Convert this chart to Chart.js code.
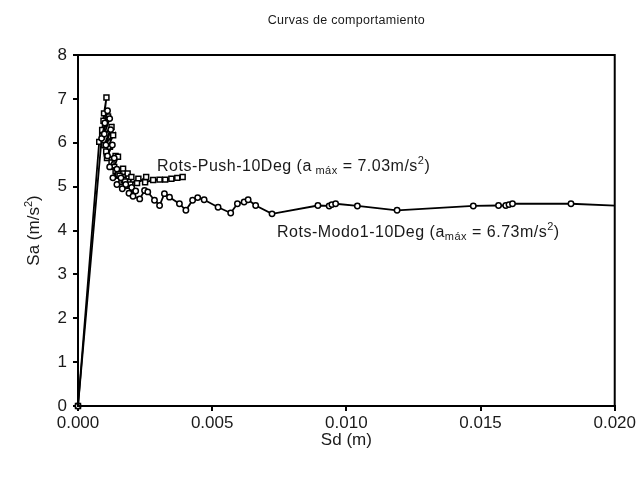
<!DOCTYPE html>
<html>
<head>
<meta charset="utf-8">
<script src="https://cdn.jsdelivr.net/npm/chart.js@4/dist/chart.umd.min.js"></script>
<style>
  html, body { margin: 0; padding: 0; background: #fff; }
  #wrap { width: 638px; height: 477px; position: relative; }
</style>
</head>
<body>
<div id="wrap"><canvas id="chart"></canvas></div>
<script>
// Rots-Push-10Deg (squares)
const pushX = [0, 0.00079, 0.00090, 0.00097, 0.00106, 0.00095, 0.00112, 0.00090, 0.00125,
  0.00098, 0.00131, 0.00105, 0.00119, 0.00108, 0.00140, 0.00125, 0.00149, 0.00135,
  0.00140, 0.00168, 0.00150, 0.00155, 0.00185, 0.00170, 0.00175, 0.00199, 0.00195,
  0.00225, 0.00220, 0.00254, 0.00250, 0.00280, 0.00304, 0.00325, 0.00348, 0.00370, 0.00390];
const pushY = [0, 6.02, 6.29, 6.67, 7.03, 6.50, 6.60, 6.15, 6.36,
  5.95, 6.17, 5.80, 5.91, 5.65, 5.70, 5.55, 5.68, 5.45,
  5.35, 5.41, 5.28, 5.25, 5.30, 5.15, 5.12, 5.22, 5.05,
  5.18, 5.08, 5.22, 5.10, 5.15, 5.16, 5.16, 5.18, 5.20, 5.22];

// Rots-Modo1-10Deg (circles)
const modoX = [0, 0.00088, 0.00110, 0.00100, 0.00118, 0.00098, 0.00122, 0.00104, 0.00128,
  0.00110, 0.00135, 0.00118, 0.00145, 0.00130, 0.00160, 0.00145, 0.00178, 0.00165,
  0.00200, 0.00190, 0.00215, 0.00205, 0.00230, 0.00248, 0.00260, 0.00285, 0.00304,
  0.00322, 0.00341, 0.00378, 0.00402, 0.00427, 0.00446, 0.00470, 0.00522, 0.00569,
  0.00594, 0.00619, 0.00634, 0.00662, 0.00723, 0.00894, 0.00936, 0.00946, 0.00960,
  0.01041, 0.01189, 0.01473, 0.01567, 0.01594, 0.01606, 0.01619, 0.01837, 0.02150];
const modoY = [0, 6.10, 6.73, 6.45, 6.55, 6.20, 6.30, 5.95, 5.95,
  5.70, 5.65, 5.45, 5.40, 5.20, 5.20, 5.05, 5.05, 4.95,
  4.98, 4.85, 4.90, 4.78, 4.72, 4.91, 4.88, 4.69, 4.57,
  4.84, 4.76, 4.61, 4.46, 4.69, 4.75, 4.70, 4.53, 4.40,
  4.61, 4.65, 4.70, 4.57, 4.38, 4.57, 4.56, 4.59, 4.61,
  4.56, 4.46, 4.56, 4.57, 4.57, 4.59, 4.61, 4.61, 4.53];

const xTicks = [0, 0.005, 0.010, 0.015, 0.020];
const yTicks = [0, 1, 2, 3, 4, 5, 6, 7, 8];

const FONT = "'Liberation Sans', Arial, sans-serif";
const INK = '#1a1a1a';

function toPoints(xs, ys) {
  return xs.map((x, i) => ({ x: x, y: ys[i] }));
}

// draw a run of text pieces with sub/superscripts
function drawRich(ctx, x, y, parts) {
  ctx.textAlign = 'left';
  ctx.textBaseline = 'alphabetic';
  let cx = x;
  parts.forEach(p => {
    ctx.font = p.size + 'px ' + FONT;
    ctx.fillText(p.t, cx, y + (p.dy || 0));
    cx += ctx.measureText(p.t).width;
  });
}

function richWidth(ctx, parts) {
  let w = 0;
  parts.forEach(p => {
    ctx.font = p.size + 'px ' + FONT;
    w += ctx.measureText(p.t).width;
  });
  return w;
}

const textPlugin = {
  id: 'texts',
  afterDraw(chart) {
    const ctx = chart.ctx;
    const a = chart.chartArea;
    ctx.save();

    // frame round the plot
    ctx.strokeStyle = '#000';
    ctx.lineWidth = 2;
    ctx.strokeRect(a.left, a.top, a.right - a.left, a.bottom - a.top);

    ctx.fillStyle = INK;
    const midX = (a.left + a.right) / 2;

    // title
    ctx.letterSpacing = '0.3px';
    ctx.font = '12.5px ' + FONT;
    ctx.textAlign = 'center';
    ctx.textBaseline = 'middle';
    ctx.fillText('Curvas de comportamiento', midX, 21);
    ctx.letterSpacing = '0px';

    // x axis title
    ctx.font = '17px ' + FONT;
    ctx.fillText('Sd (m)', midX, 440);

    // y axis title, rotated
    const yTitle = [
      { t: 'Sa (m/s', size: 17 },
      { t: '2', size: 11, dy: -7 },
      { t: ')', size: 17 }
    ];
    ctx.save();
    ctx.translate(33, (a.top + a.bottom) / 2);
    ctx.rotate(-Math.PI / 2);
    const w = richWidth(ctx, yTitle);
    drawRich(ctx, -w / 2, 6, yTitle);
    ctx.restore();

    // series labels
    ctx.letterSpacing = '0.5px';
    drawRich(ctx, 157, 171, [
      { t: 'Rots-Push-10Deg (a', size: 16 },
      { t: ' máx', size: 11, dy: 3 },
      { t: ' = 7.03m/s', size: 16 },
      { t: '2', size: 11, dy: -7 },
      { t: ')', size: 16 }
    ]);
    drawRich(ctx, 277, 237, [
      { t: 'Rots-Modo1-10Deg (a', size: 16 },
      { t: 'máx', size: 11, dy: 3 },
      { t: ' = 6.73m/s', size: 16 },
      { t: '2', size: 11, dy: -7 },
      { t: ')', size: 16 }
    ]);
    ctx.restore();
  }
};

const ctx = document.getElementById('chart').getContext('2d');
const chart = new Chart(ctx, {
  type: 'line',
  data: {
    datasets: [{
      label: 'Rots-Modo1-10Deg',
      data: toPoints(modoX, modoY),
      borderColor: '#000',
      borderWidth: 1.8,
      pointStyle: 'circle',
      pointRadius: 2.7,
      pointBorderWidth: 1.5,
      pointBackgroundColor: '#fff',
      pointBorderColor: '#000',
      tension: 0,
      clip: { left: 6, top: 6, right: 0, bottom: 6 }
    }, {
      label: 'Rots-Push-10Deg',
      data: toPoints(pushX, pushY),
      borderColor: '#000',
      borderWidth: 1.8,
      pointStyle: 'rect',
      pointRadius: 3.5,
      pointBorderWidth: 1.5,
      pointBackgroundColor: '#fff',
      pointBorderColor: '#000',
      tension: 0,
      clip: { left: 6, top: 6, right: 0, bottom: 6 }
    }]
  },
  options: {
    responsive: true,
    maintainAspectRatio: false,
    animation: false,
    layout: { padding: { left: 0, top: 55, right: 20, bottom: 0 } },
    plugins: {
      legend: { display: false },
      title: { display: false },
      tooltip: { enabled: false }
    },
    scales: {
      x: {
        type: 'linear',
        min: 0,
        max: 0.02,
        afterFit: s => { s.height = 71; },
        afterBuildTicks: s => { s.ticks = xTicks.map(v => ({ value: v })); },
        ticks: {
          color: INK,
          padding: 2,
          maxRotation: 0,
          font: { family: FONT, size: 17 },
          callback: v => v.toFixed(3)
        },
        grid: { drawOnChartArea: false, drawTicks: true, tickLength: 5, color: '#000', lineWidth: 2 },
        border: { display: true, color: '#000', width: 2 }
      },
      y: {
        min: 0,
        max: 8,
        afterFit: s => { s.width = 78; },
        afterBuildTicks: s => { s.ticks = yTicks.map(v => ({ value: v })); },
        ticks: {
          color: INK,
          padding: 6,
          font: { family: FONT, size: 17 },
          callback: v => String(v)
        },
        grid: { drawOnChartArea: false, drawTicks: true, tickLength: 5, color: '#000', lineWidth: 2 },
        border: { display: true, color: '#000', width: 2 }
      }
    }
  },
  plugins: [textPlugin]
});
</script>
</body>
</html>
